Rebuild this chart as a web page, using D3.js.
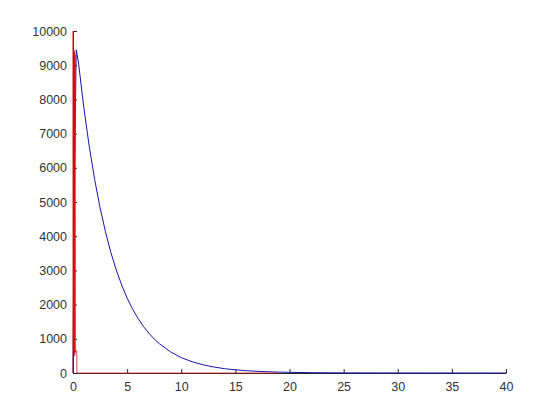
<!DOCTYPE html>
<html>
  <head>
    <meta charset="utf-8">
    <title>decay plot</title>
    <script src="https://d3js.org/d3.v7.min.js"></script>
    <style>
      body { margin: 0; background: #fff; }
      .tick text { font-family: "Liberation Sans", Arial, sans-serif; font-size: 12.5px; fill: #333; }
      .domain, .tick line { stroke: #262626; }
    </style>
  </head>
  <body>
    <div id="chart"></div>

    <script type="text/javascript">
      // blue curve
      var blueT = [0, 0.1, 0.3, 0.5, 1, 1.5, 2, 2.5, 3, 3.5, 4, 4.5, 5, 5.5, 6, 6.5, 7, 7.5, 8, 9, 10,
                   11, 12, 13, 14, 15, 16, 17, 18, 19, 20, 22, 25, 30, 40];
      var blueY = [0, 5000, 9450, 9090, 7760, 6625, 5660, 4830, 4130, 3520, 3010, 2570, 2190, 1870, 1600, 1365, 1165, 995, 850, 620, 450,
                   330, 240, 175, 127, 93, 67, 49, 36, 26, 19, 10, 4, 1, 0];

      // red signal: spikes near zero, then flat
      var redT = [0, 0.01, 0.04, 0.07, 0.1, 0.13, 0.16, 0.19, 0.22, 0.25, 0.33, 0.35, 0.36, 19];
      var redY = [0, 10000, 700, 9450, 600, 9400, 500, 9300, 600, 650, 650, 650, 0, 0];

      var xTicks = [0, 5, 10, 15, 20, 25, 30, 35, 40];
      var yTicks = [0, 1000, 2000, 3000, 4000, 5000, 6000, 7000, 8000, 9000, 10000];

      var width = 560,
          height = 420;
      var margin = {top: 31, right: 54, bottom: 47, left: 73};

      var svg = d3.select('#chart').append('svg')
          .attr('width', width)
          .attr('height', height);

      var x = d3.scaleLinear().domain([0, 40]).range([margin.left, width - margin.right]);
      var y = d3.scaleLinear().domain([0, 10000]).range([height - margin.bottom, margin.top]);

      var blue = blueT.map(function(t, i) { return [t, blueY[i]]; });
      var red = redT.map(function(t, i) { return [t, redY[i]]; });

      // axes, ticks pointing inward like matlab
      svg.append('g')
          .attr('transform', 'translate(0,' + y(0) + ')')
          .call(d3.axisBottom(x).tickValues(xTicks).tickSizeInner(-4).tickSizeOuter(0).tickPadding(9));

      svg.append('g')
          .attr('transform', 'translate(' + x(0) + ',0)')
          .call(d3.axisLeft(y).tickValues(yTicks).tickFormat(d3.format('d')).tickSizeInner(-4).tickSizeOuter(0).tickPadding(6));

      var line = d3.line()
          .x(function(d) { return x(d[0]); })
          .y(function(d) { return y(d[1]); });

      svg.append('path')
          .datum(blue)
          .attr('fill', 'none')
          .attr('stroke', '#1414a8')
          .attr('stroke-width', 1)
          .attr('d', line);

      svg.append('path')
          .datum(red)
          .attr('fill', 'none')
          .attr('stroke', '#d01010')
          .attr('stroke-opacity', 0.75)
          .attr('stroke-width', 1)
          .attr('d', line);
    </script>
  </body>
</html>
